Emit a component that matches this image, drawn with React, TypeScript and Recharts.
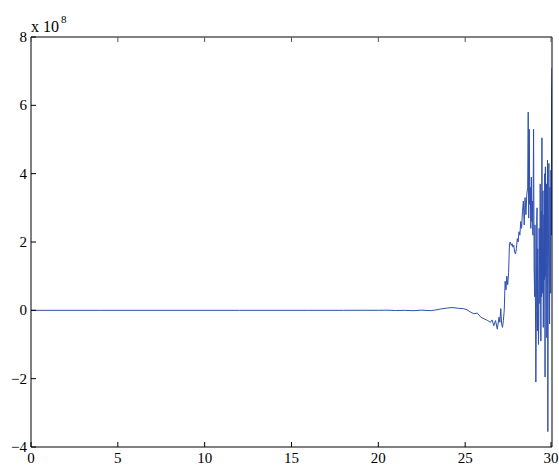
import React from "react";
import { LineChart, Line, XAxis, YAxis } from "recharts";

// x values (time) and y values (in units of 1e8)
const xs = [
  0, 4, 8, 12, 16, 18, 19, 20, 20.5, 21, 21.5, 22, 22.5, 23, 23.3, 23.6, 24, 24.3, 24.6, 24.9,
  25.1, 25.3, 25.5, 25.7, 25.9, 26.1, 26.3, 26.45, 26.55, 26.65, 26.75, 26.85, 26.95, 27, 27.05,
  27.1, 27.15, 27.2, 27.25, 27.3, 27.35, 27.4, 27.45, 27.5, 27.55, 27.6, 27.65, 27.7, 27.75, 27.8,
  27.85, 27.9, 27.95, 28, 28.05, 28.1, 28.15, 28.2, 28.25, 28.3, 28.35, 28.4, 28.45, 28.5, 28.55,
  28.6, 28.63, 28.66, 28.69, 28.72, 28.75, 28.78, 28.81, 28.84, 28.87, 28.9, 28.94, 28.97, 29,
  29.02, 29.04, 29.07, 29.1, 29.12, 29.14, 29.16, 29.18, 29.2, 29.22, 29.24, 29.26, 29.28, 29.3,
  29.32, 29.34, 29.36, 29.38, 29.4, 29.42, 29.44, 29.46, 29.48, 29.5, 29.52, 29.54, 29.56, 29.58,
  29.6, 29.62, 29.64, 29.66, 29.68, 29.7, 29.72, 29.74, 29.76, 29.78, 29.8, 29.82, 29.84, 29.86,
  29.88, 29.9, 29.92, 29.94, 29.96, 29.98, 30,
];
const ys = [
  0, 0, 0, 0, 0, 0, 0.002, 0, 0.005, -0.005, 0, -0.01, 0.005, -0.01, 0.01, 0.04, 0.07, 0.08, 0.06, 0.05,
  0.02, -0.05, -0.1, -0.08, -0.2, -0.25, -0.3, -0.35, -0.28, -0.45, -0.3, -0.55, -0.2, -0.35, 0.05,
  -0.4, -0.5, -0.3, 0, 0.85, 0.6, 1.0, 0.75, 1.1, 1.95, 2.0, 1.9, 1.95, 1.85, 1.9,
  1.7, 1.65, 1.8, 2.1, 2.0, 2.3, 2.2, 2.6, 2.4, 2.9, 3.2, 2.5, 3.3, 2.8, 3.4,
  3.6, 5.8, 2.7, 5.3, 3.1, 3.6, 2.4, 3.9, 2.6, 3.2, 2.2, 5.3, 1.2, 0.4,
  2.5, 1.0, -2.1, 0, 2.6, 3.0, -0.6, 1.8, 0.8, -1.0, -0.3, 2.4, 1.5, 0.2,
  3.7, 1.6, -0.9, 2.9, 0.4, 5.05, 0.5, 1.9, 3.5, -0.5, 2.2, 2.8, 0.9, 4.0,
  -1.95, 4.2, 1.0, 2.6, 3.7, -0.8, 2.1, 4.4, -3.55, 0.6, 2.0, 4.3, 1.2, -0.4,
  3.6, 3.0, 0.5, 4.1, 2.2, 6.3, 7.1,
];
const xTicks = [0, 5, 10, 15, 20, 25, 30];
const yTicks = [-4, -2, 0, 2, 4, 6, 8];

const data = xs.map((x, i) => ({ x, y: ys[i] }));

const FONT = "'Liberation Serif', 'DejaVu Serif', serif";
const TICK = 5;

const fmt = (v: number) => (v < 0 ? `\u2212${Math.abs(v)}` : `${v}`);

const BottomTick = ({ x, y, payload }: any) => (
  <g>
    <line x1={x} y1={y} x2={x} y2={y - TICK} stroke="#000" />
    <text x={x} y={y + 16} textAnchor="middle" fontFamily={FONT} fontSize={15} fill="#000">
      {payload.value}
    </text>
  </g>
);

const LeftTick = ({ x, y, payload }: any) => (
  <g>
    <line x1={x} y1={y} x2={x + TICK} y2={y} stroke="#000" />
    <text x={x - 4} y={y + 5} textAnchor="end" fontFamily={FONT} fontSize={15} fill="#000">
      {fmt(payload.value)}
    </text>
  </g>
);

const TopTick = ({ x, y }: any) => (
  <line x1={x} y1={y} x2={x} y2={y + TICK} stroke="#555" />
);

const RightTick = ({ x, y }: any) => (
  <line x1={x} y1={y} x2={x - TICK} y2={y} stroke="#555" />
);

export default function App() {
  return (
    <div style={{ position: "absolute", left: 0, top: 0, width: 559, height: 468, background: "#fff" }}>
      <LineChart width={559} height={468} data={data} margin={{ top: 0, right: 0, bottom: 0, left: 0 }}>
        <XAxis
          xAxisId="b"
          dataKey="x"
          type="number"
          domain={[0, 30]}
          ticks={xTicks}
          height={21}
          tickSize={0}
          tickMargin={0}
          tick={<BottomTick />}
          axisLine={{ stroke: "#000" }}
          tickLine={false}
          allowDataOverflow
        />
        <XAxis
          xAxisId="t"
          orientation="top"
          dataKey="x"
          type="number"
          domain={[0, 30]}
          ticks={xTicks}
          height={37}
          tickSize={0}
          tickMargin={0}
          tick={<TopTick />}
          axisLine={{ stroke: "#000" }}
          tickLine={false}
        />
        <YAxis
          yAxisId="l"
          type="number"
          domain={[-4, 8]}
          ticks={yTicks}
          width={31}
          tickSize={0}
          tickMargin={0}
          tick={<LeftTick />}
          axisLine={{ stroke: "#000" }}
          tickLine={false}
          allowDataOverflow
        />
        <YAxis
          yAxisId="r"
          orientation="right"
          type="number"
          domain={[-4, 8]}
          ticks={yTicks}
          width={7}
          tickSize={0}
          tickMargin={0}
          tick={<RightTick />}
          axisLine={{ stroke: "#000" }}
          tickLine={false}
        />
        <Line
          xAxisId="b"
          yAxisId="l"
          type="linear"
          dataKey="y"
          stroke="#2f4fae"
          strokeWidth={1}
          dot={false}
          isAnimationActive={false}
        />
      </LineChart>
      <div
        style={{
          position: "absolute",
          left: 31,
          top: 13,
          fontFamily: FONT,
          fontSize: 16,
          color: "#000",
          lineHeight: "18px",
          whiteSpace: "nowrap",
        }}
      >
        x 10<sup style={{ fontSize: 11, position: "relative", top: -3, marginLeft: 2 }}>8</sup>
      </div>
    </div>
  );
}
